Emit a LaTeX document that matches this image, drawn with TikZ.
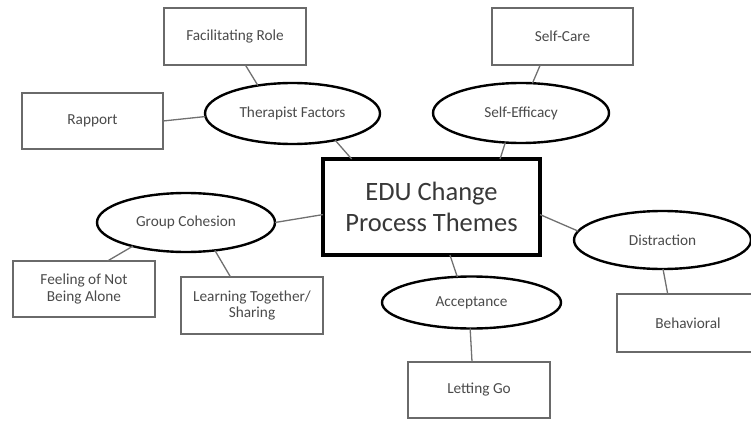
\documentclass[tikz,border=0pt]{standalone}
\usepackage{fontspec}
\setmainfont{Carlito}
\usetikzlibrary{shapes.geometric}
\definecolor{boxgray}{HTML}{6A6A6A}
\definecolor{linkgray}{HTML}{707070}
\definecolor{txtgray}{HTML}{4A4A4A}
\definecolor{ctxt}{HTML}{383838}
\tikzset{
  box/.style={draw=boxgray, line width=1.2pt, minimum width=142pt, minimum height=57pt,
    inner sep=0pt, outer sep=0pt, align=center, text=txtgray,
    font=\fontsize{15.3}{17}\selectfont},
  oval/.style={ellipse, draw=black, line width=2.4pt, inner sep=0pt, outer sep=0pt,
    text=txtgray, font=\fontsize{15.3}{17}\selectfont},
  hub/.style={draw=black, line width=3.4pt, minimum width=217pt, minimum height=96pt,
    inner sep=0pt, outer sep=0pt, align=center, text=ctxt,
    font=\fontsize{26.5}{31}\selectfont},
  link/.style={draw=linkgray, line width=1.3pt}
}
\begin{document}
\begin{tikzpicture}[x=1pt,y=-1pt]
\useasboundingbox (0,0) rectangle (751,422);
\node[hub] (C) at (431.5,207) {EDU Change\\Process Themes};
\node[box] (FR) at (235,36.5) {Facilitating Role};
\node[box, minimum width=141pt, minimum height=56pt] (RA) at (92.5,121) {Rapport};
\node[oval, minimum width=175pt, minimum height=61pt] (TF) at (292.5,113.5) {Therapist Factors};
\node[box, minimum width=141pt] (SC) at (562.5,36.5) {Self-Care};
\node[oval, minimum width=176pt, minimum height=60pt] (SE) at (521,113) {Self-Efficacy};
\node[oval, minimum width=178pt, minimum height=59pt] (GC) at (186,222.5) {Group Cohesion};
\node[box, minimum height=56pt] (FN) at (84,289) {Feeling of Not\\Being Alone};
\node[box] (LT) at (252,305.5) {Learning Together/\\Sharing};
\node[oval, minimum width=177pt, minimum height=58pt] (DI) at (662.5,240) {Distraction};
\node[box, minimum height=58pt] (BE) at (688,323) {Behavioral};
\node[oval, minimum width=179pt, minimum height=52pt] (AC) at (471.5,302.5) {Acceptance};
\node[box, minimum height=56pt] (LG) at (479,390) {Letting Go};
\draw[link] (FR.-70.7) -- (TF.141.2);
\draw[link] (RA.-0.8) -- (TF.182.9);
\draw[link] (TF.-32.6) -- (C.149.5);
\draw[link] (SC.-128.3) -- (SE.69.9);
\draw[link] (SE.-118.1) -- (C.35.8);
\draw[link] (GC.0.3) -- (C.184.2);
\draw[link] (GC.204.5) -- (FN.50.6);
\draw[link] (GC.-44.5) -- (LT.127.7);
\draw[link] (C.-4.1) -- (DI.174.7);
\draw[link] (C.-69.7) -- (AC.119.6);
\draw[link] (DI.-89) -- (BE.125.9);
\draw[link] (AC.-93.4) -- (LG.104);
\end{tikzpicture}
\end{document}
